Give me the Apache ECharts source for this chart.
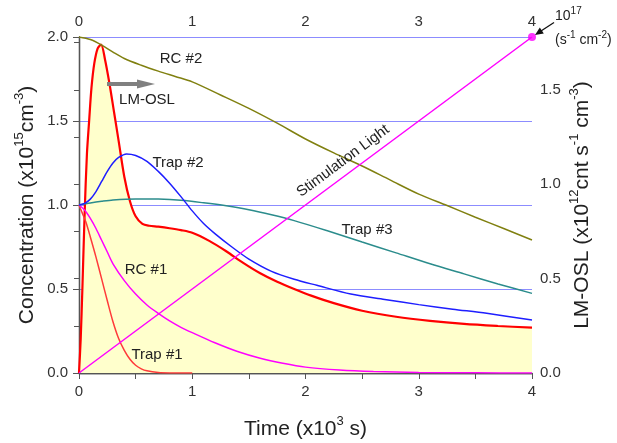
<!DOCTYPE html>
<html>
<head>
<meta charset="utf-8">
<script src="https://cdn.jsdelivr.net/npm/echarts@6/dist/echarts.min.js"></script>
<style>html,body{margin:0;padding:0;background:#fff;}#chart{width:617px;height:443px;}</style>
</head>
<body>
<div id="chart"></div>
<script>
// ---- data (time in 10^3 s) ----
const xTicks = [0, 1, 2, 3, 4];
const lmoslTime = [0, 0.015, 0.03, 0.05, 0.07, 0.09, 0.11, 0.135, 0.165, 0.195, 0.23, 0.27, 0.31, 0.35, 0.40, 0.45, 0.50, 0.56, 0.62, 0.70, 0.80, 0.90, 1.0, 1.15, 1.3, 1.45, 1.6, 1.75, 1.9, 2.05, 2.25, 2.5, 2.8, 3.1, 3.4, 3.7, 4.0];
const lmoslValues = [0, 0.18, 0.45, 0.85, 1.16, 1.34, 1.51, 1.64, 1.72, 1.74, 1.66, 1.53, 1.38, 1.23, 1.04, 0.91, 0.83, 0.79, 0.78, 0.775, 0.767, 0.757, 0.743, 0.70, 0.645, 0.583, 0.528, 0.483, 0.445, 0.41, 0.37, 0.33, 0.298, 0.276, 0.26, 0.249, 0.24];
const trap1Time = [0, 0.03, 0.06, 0.1, 0.15, 0.2, 0.25, 0.3, 0.35, 0.4, 0.45, 0.5, 0.55, 0.6, 0.7, 0.8, 1.0];
const trap1Values = [1.0, 0.95, 0.9, 0.81, 0.69, 0.56, 0.43, 0.305, 0.205, 0.135, 0.082, 0.046, 0.025, 0.013, 0.003, 0.0005, 0];
const trap2Time = [0, 0.05, 0.1, 0.15, 0.2, 0.25, 0.3, 0.35, 0.42, 0.5, 0.6, 0.7, 0.8, 0.9, 1.0, 1.1, 1.2, 1.35, 1.5, 1.7, 1.9, 2.1, 2.4, 2.7, 3.0, 3.3, 3.6, 4.0];
const trap2Values = [1.0, 1.01, 1.035, 1.08, 1.14, 1.2, 1.25, 1.283, 1.304, 1.295, 1.26, 1.2, 1.13, 1.05, 0.965, 0.89, 0.83, 0.75, 0.678, 0.605, 0.558, 0.522, 0.47, 0.438, 0.407, 0.38, 0.355, 0.315];
const trap3Time = [0, 0.1, 0.2, 0.3, 0.5, 0.7, 0.9, 1.1, 1.3, 1.5, 1.7, 1.9, 2.2, 2.5, 2.8, 3.1, 3.4, 3.7, 4.0];
const trap3Values = [1.0, 1.012, 1.022, 1.03, 1.036, 1.035, 1.028, 1.013, 0.995, 0.972, 0.942, 0.907, 0.845, 0.78, 0.715, 0.65, 0.59, 0.53, 0.474];
const rc1Time = [0, 0.05, 0.1, 0.15, 0.2, 0.25, 0.3, 0.4, 0.5, 0.6, 0.7, 0.8, 0.9, 1.0, 1.2, 1.4, 1.6, 1.8, 2.0, 2.3, 2.6, 3.0, 3.5, 4.0];
const rc1Values = [1.0, 0.97, 0.92, 0.86, 0.79, 0.72, 0.65, 0.55, 0.47, 0.405, 0.355, 0.31, 0.272, 0.24, 0.18, 0.128, 0.088, 0.058, 0.035, 0.018, 0.009, 0.003, 0.001, 0];
const rc2Time = [0, 0.1, 0.2, 0.3, 0.4, 0.55, 0.7, 0.85, 1.0, 1.25, 1.5, 1.75, 2.0, 2.25, 2.5, 2.75, 3.0, 3.25, 3.5, 3.75, 4.0];
const rc2Values = [2.0, 1.985, 1.952, 1.91, 1.872, 1.832, 1.797, 1.765, 1.733, 1.655, 1.575, 1.487, 1.393, 1.31, 1.232, 1.148, 1.065, 0.997, 0.927, 0.86, 0.792];
const stimTime = [0, 4];
const stimValues = [0, 2.0];
const leftTicks = [0, 0.5, 1.0, 1.5, 2.0];
const rightTicks = [0, 0.5, 1.0, 1.5];

const zip = (xs, ys) => xs.map((x, i) => [x, ys[i]]);
const FONT = '"Liberation Sans", Arial, Helvetica, sans-serif';
const supRich = { sup: { fontSize: 13, verticalAlign: 'top', fontFamily: FONT, color: '#222' } };

const chart = echarts.init(document.getElementById('chart'), null, { renderer: 'canvas' });

const axisLine = { show: true, lineStyle: { color: '#555', width: 1.3 } };
const xCommon = {
  type: 'value', min: 0, max: 4, interval: 1,
  axisLine: axisLine,
  splitLine: { show: false },
  axisLabel: { fontSize: 15, color: '#333', fontFamily: FONT, formatter: v => xTicks.includes(v) ? String(v) : '' },
};

const lineSeries = (name, t, v, color, width, yIdx, z) => ({
  name, type: 'line', data: zip(t, v), xAxisIndex: 0, yAxisIndex: yIdx,
  showSymbol: false, smooth: 0.3,
  lineStyle: { color, width }, itemStyle: { color }, z: z || 3, silent: true
});

const option = {
  animation: false,
  grid: { left: 79, right: 85, top: 37, bottom: 70, containLabel: false, outerBoundsMode: 'none' },
  xAxis: [
    Object.assign({}, xCommon, {
      position: 'bottom',
      name: 'Time (x10{sup|3} s)', nameLocation: 'middle', nameGap: 42, nameMoveOverlap: false,
      nameTextStyle: { fontSize: 21, color: '#222', fontFamily: FONT, lineHeight: 28, rich: supRich },
      axisTick: { show: true, inside: false, length: 6, lineStyle: { color: '#555' } },
      minorTick: { show: true, splitNumber: 2, length: 4, lineStyle: { color: '#555' } },
      axisLabel: Object.assign({}, xCommon.axisLabel, { margin: 11 }),
    }),
    Object.assign({}, xCommon, {
      position: 'top',
      axisTick: { show: true, inside: true, length: 6, lineStyle: { color: '#555' } },
      minorTick: { show: true, splitNumber: 2, length: 6, lineStyle: { color: '#555' } },
      axisLabel: Object.assign({}, xCommon.axisLabel, { margin: 8 }),
    })
  ],
  yAxis: [
    {
      type: 'value', min: 0, max: 2, interval: 0.5, position: 'left',
      name: 'Concentration (x10{sup|15}cm{sup|-3})', nameLocation: 'middle', nameGap: 38, nameRotate: 90, nameMoveOverlap: false,
      nameTextStyle: { fontSize: 21, color: '#222', fontFamily: FONT, lineHeight: 28, rich: supRich },
      axisLine: axisLine,
      axisTick: { show: true, inside: false, length: 6, lineStyle: { color: '#555' } },
      minorTick: { show: false },
      axisLabel: { fontSize: 15, color: '#333', fontFamily: FONT, margin: 11,
        formatter: v => leftTicks.some(t => Math.abs(t - v) < 1e-9) ? v.toFixed(1) : '' },
      splitLine: { show: true, lineStyle: { color: '#8c8cff', width: 1, opacity: 1 } },
    },
    {
      type: 'value', min: 0, max: 1.78, interval: 0.25, position: 'right',
      name: 'LM-OSL (x10{sup|12}cnt s{sup|-1} cm{sup|-3})', nameLocation: 'middle', nameGap: 36, nameRotate: 90, nameMoveOverlap: false,
      nameTextStyle: { fontSize: 21, color: '#222', fontFamily: FONT, lineHeight: 28, rich: supRich },
      axisLine: axisLine,
      axisTick: { show: true, inside: true, length: 5, lineStyle: { color: '#555' } },
      axisLabel: { fontSize: 15, color: '#333', fontFamily: FONT, margin: 8, showMaxLabel: false,
        formatter: v => rightTicks.some(t => Math.abs(t - v) < 1e-9) ? v.toFixed(1) : '' },
      splitLine: { show: false },
    }
  ],
  series: [
    Object.assign(lineSeries('LM-OSL', lmoslTime, lmoslValues, '#ff0000', 2.2, 1, 2), {
      areaStyle: { color: '#ffffcc', opacity: 1 }
    }),
    lineSeries('Trap #1', trap1Time, trap1Values, '#ff3a3a', 1.5, 0),
    lineSeries('RC #1', rc1Time, rc1Values, '#ff00ff', 1.5, 0),
    lineSeries('Trap #3', trap3Time, trap3Values, '#2b8c8c', 1.5, 0),
    lineSeries('Trap #2', trap2Time, trap2Values, '#1e1eff', 1.5, 0),
    lineSeries('RC #2', rc2Time, rc2Values, '#808010', 1.5, 0),
    Object.assign(lineSeries('Stimulation Light', stimTime, stimValues, '#ff00ff', 1.5, 0), { smooth: false }),
    {
      name: 'Stimulation max', type: 'scatter', xAxisIndex: 0, yAxisIndex: 0,
      data: [[stimTime[1], stimValues[1]]], symbol: 'circle', symbolSize: 8,
      itemStyle: { color: '#ff00ff' }, z: 5, silent: true
    }
  ],
  graphic: [
    ...[
      ['RC #2', 181, 59], ['LM-OSL', 147, 100], ['Trap #2', 178, 163],
      ['Trap #3', 367, 230], ['RC #1', 146, 270], ['Trap #1', 157, 355]
    ].map(([t, x, y]) => ({
      type: 'text', x, y, z: 10,
      style: { text: t, fontSize: 15, fontFamily: FONT, fill: '#222', align: 'center', verticalAlign: 'middle' }
    })),
    {
      type: 'text', x: 343, y: 161, rotation: Math.atan(336 / 453), z: 10,
      style: { text: 'Stimulation Light', fontSize: 15, fontFamily: FONT, fill: '#222', align: 'center', verticalAlign: 'middle' }
    },
    { type: 'line', z: 10, shape: { x1: 107, y1: 84, x2: 139, y2: 84 }, style: { stroke: '#808080', lineWidth: 4 } },
    { type: 'polygon', z: 10, shape: { points: [[137, 79.5], [155, 84], [137, 88.5]] }, style: { fill: '#808080' } },
    { type: 'line', z: 10, shape: { x1: 554, y1: 22.5, x2: 541, y2: 31 }, style: { stroke: '#111', lineWidth: 1.3 } },
    { type: 'polygon', z: 10, shape: { points: [[535, 35], [543.8, 33.6], [539.8, 27.6]] }, style: { fill: '#111' } },
    {
      type: 'text', x: 555, y: 16, z: 10,
      style: { text: '10{sup|17}', fontSize: 14, fontFamily: FONT, fill: '#222', align: 'left', verticalAlign: 'middle', lineHeight: 20,
        rich: { sup: { fontSize: 10, verticalAlign: 'top', fontFamily: FONT, fill: '#222' } } }
    },
    {
      type: 'text', x: 555, y: 40, z: 10,
      style: { text: '(s{sup|-1} cm{sup|-2})', fontSize: 14, fontFamily: FONT, fill: '#222', align: 'left', verticalAlign: 'middle', lineHeight: 20,
        rich: { sup: { fontSize: 10, verticalAlign: 'top', fontFamily: FONT, fill: '#222' } } }
    }
  ]
};
chart.setOption(option);
</script>
</body>
</html>
